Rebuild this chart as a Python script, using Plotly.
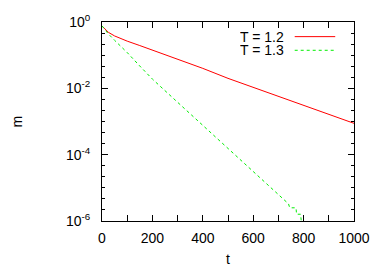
import plotly.graph_objects as go

t_red = [0, 10, 25, 50, 75, 100, 150, 200, 300, 400, 500, 600, 700, 800, 900, 1000]
m_red = [0.76, 0.62, 0.49, 0.38, 0.31, 0.265, 0.195, 0.142, 0.075, 0.040, 0.020,
         0.0107, 0.0056, 0.0030, 0.0016, 0.00088]

t_green = [0, 10, 25, 50, 100, 150, 200, 300, 400, 500, 600, 700, 740, 745, 770, 772, 788, 792]
m_green = [0.76, 0.60, 0.44, 0.28, 0.12, 0.047, 0.019, 0.0038, 7.6e-4, 1.5e-4, 3.2e-5,
           6.3e-6, 3.3e-6, 2.5e-6, 2.5e-6, 1.6e-6, 1.6e-6, 8e-7]

labels = ["T = 1.2", "T = 1.3"]
colors = ["#ff0000", "#00ee00"]

y_major = [1, 1e-2, 1e-4, 1e-6]
y_major_text = ["10<sup>0</sup>", "10<sup>-2</sup>", "10<sup>-4</sup>", "10<sup>-6</sup>"]
y_minor = [10 ** (-n / 3) for n in range(1, 18) if n % 6 != 0]

x_major = [0, 200, 400, 600, 800, 1000]

fig = go.Figure()
fig.add_trace(go.Scatter(x=t_red, y=m_red, mode="lines", name=labels[0],
                         line=dict(color=colors[0], width=1), showlegend=False))
fig.add_trace(go.Scatter(x=t_green, y=m_green, mode="lines", name=labels[1],
                         line=dict(color=colors[1], width=1, dash="3px,3px"), showlegend=False))

font = dict(family="Liberation Sans, Arial, sans-serif", size=14, color="black")

W, H = 382, 267
L, R, T, B = 102, 25, 17, 46
pw, ph = W - L - R, H - T - B

def px(x):
    return (x - L) / pw

def py(y):
    return 1 - (y - T) / ph

fig.update_layout(
    width=W, height=H,
    margin=dict(l=L, r=R, t=T, b=B),
    paper_bgcolor="white", plot_bgcolor="white",
    font=font,
    xaxis=dict(range=[0, 1000], tickvals=x_major, ticks="inside", ticklen=6,
               tickcolor="black", showline=True, linecolor="black", linewidth=1,
               mirror="allticks", showgrid=False, zeroline=False,
               minor=dict(tickvals=[100, 300, 500, 700, 900], ticks="inside",
                          ticklen=6, tickcolor="black"),
               tickfont=font, ticklabelstandoff=4),
    yaxis=dict(type="log", range=[-6, 0], tickvals=y_major, ticktext=y_major_text,
               ticks="inside", ticklen=6, tickcolor="black", showline=True,
               linecolor="black", linewidth=1, mirror="allticks", showgrid=False,
               zeroline=False,
               minor=dict(tickvals=y_minor, ticks="inside", ticklen=3, tickcolor="black"),
               tickfont=font, ticklabelstandoff=8),
)

# axis titles
fig.add_annotation(text="t", xref="paper", yref="paper", x=0.5, y=py(260),
                   showarrow=False, font=font, xanchor="center", yanchor="middle")
fig.add_annotation(text="m", xref="paper", yref="paper", x=px(15), y=0.5,
                   showarrow=False, font=font, textangle=-90,
                   xanchor="center", yanchor="middle")

# legend (gnuplot style: text then sample)
for i, (lab, col) in enumerate(zip(labels, colors)):
    yy = 32 + 14 * i
    fig.add_annotation(text=lab, xref="paper", yref="paper", x=px(288), y=py(yy),
                       showarrow=False, font=font, xanchor="right", yanchor="middle",
                       height=14)
    fig.add_shape(type="line", xref="paper", yref="paper",
                  x0=px(297), x1=px(338), y0=py(yy), y1=py(yy),
                  line=dict(color=col, width=1, dash="solid" if i == 0 else "3px,3px"))

fig.write_html("out.html", config={"displayModeBar": False})

# remove default page margin so the figure sits at the window's top-left corner
with open("out.html", "r", encoding="utf-8") as f:
    html = f.read()
html = html.replace("<head>", "<head><style>html,body{margin:0;padding:0;overflow:hidden;}</style>", 1)
with open("out.html", "w", encoding="utf-8") as f:
    f.write(html)
